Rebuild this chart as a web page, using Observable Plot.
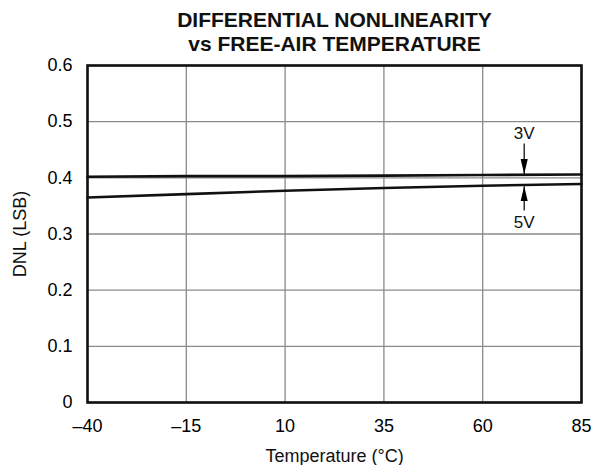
<!DOCTYPE html>
<html><head><meta charset="utf-8">
<script src="https://cdn.jsdelivr.net/npm/d3@7"></script>
<script src="https://cdn.jsdelivr.net/npm/@observablehq/plot@0.6"></script>
<style>body{margin:0;background:#fff;}</style>
</head><body><div id="chart"></div>
<script>
const temps = [-40, -15, 10, 35, 60, 85];
const dnl3V = [0.402, 0.403, 0.403, 0.404, 0.405, 0.406];
const dnl5V = [0.365, 0.371, 0.377, 0.382, 0.386, 0.389];
const xTicks = [-40, -15, 10, 35, 60, 85];
const yTicks = [0, 0.1, 0.2, 0.3, 0.4, 0.5, 0.6];
const titleLine1 = "DIFFERENTIAL NONLINEARITY";
const titleLine2 = "vs FREE-AIR TEMPERATURE";
const xLabel = "Temperature (°C)";
const yLabel = "DNL (LSB)";
const seriesLabels = [{text: "3V", x: 70.5, y: 0.479}, {text: "5V", x: 70.5, y: 0.321}];
const arrows = [{x: 70.5, y1: 0.461, y2: 0.407}, {x: 70.5, y1: 0.342, y2: 0.385}];

const s3 = temps.map((t, i) => ({t, v: dnl3V[i]}));
const s5 = temps.map((t, i) => ({t, v: dnl5V[i]}));

const fmtX = d => d < 0 ? "\u2013" + Math.abs(d) : String(d);
const fmtY = d => d === 0 ? "0" : d.toFixed(1);

const arrowHead = (color, context) => {
  const m = d3.create("svg:marker")
    .attr("viewBox", "0 -4 15 8")
    .attr("refX", 15).attr("refY", 0)
    .attr("markerWidth", 15).attr("markerHeight", 8)
    .attr("markerUnits", "userSpaceOnUse")
    .attr("orient", "auto");
  m.append("path").attr("d", "M0,-3.6L15,0L0,3.6Z").attr("fill", "black").attr("stroke", "none");
  return m.node();
};

const chart = Plot.plot({
  width: 593, height: 465,
  marginLeft: 87, marginRight: 12, marginTop: 65, marginBottom: 63,
  style: {fontFamily: "'Liberation Sans', Arial, sans-serif", fontSize: "18px", color: "#000", background: "#fff"},
  x: {domain: [-40, 85]},
  y: {domain: [0, 0.6]},
  marks: [
    Plot.ruleX(xTicks, {stroke: "#8a8a8a", strokeWidth: 1.3}),
    Plot.ruleY(yTicks, {stroke: "#8a8a8a", strokeWidth: 1.3}),
    Plot.axisX(xTicks, {tickSize: 0, tickPadding: 17, tickFormat: fmtX, fontSize: 18, label: null}),
    Plot.axisY(yTicks, {tickSize: 0, tickPadding: 15, tickFormat: fmtY, fontSize: 18, label: null}),
    Plot.line(s3, {x: "t", y: "v", stroke: "#111", strokeWidth: 2.6}),
    Plot.line(s5, {x: "t", y: "v", stroke: "#111", strokeWidth: 2.6}),
    Plot.link(arrows, {x1: "x", x2: "x", y1: "y1", y2: "y2", stroke: "black", strokeWidth: 1.2, markerEnd: arrowHead}),
    Plot.text(seriesLabels, {x: "x", y: "y", text: "text", fontSize: 17, fill: "#111"}),
    Plot.frame({stroke: "#111", strokeWidth: 2.6}),
    Plot.text([titleLine1], {text: d => d, frameAnchor: "top", dy: -53, fontSize: 21, fontWeight: "bold", fill: "#111"}),
    Plot.text([titleLine2], {text: d => d, frameAnchor: "top", dy: -29, fontSize: 21, fontWeight: "bold", fill: "#111"}),
    Plot.text([xLabel], {text: d => d, frameAnchor: "bottom", dy: 59, fontSize: 18, fill: "#111"}),
    Plot.text([yLabel], {text: d => d, frameAnchor: "left", textAnchor: "middle", dx: -67, rotate: -90, fontSize: 18, fill: "#111"})
  ]
});
document.getElementById("chart").append(chart);
</script>
</body></html>
